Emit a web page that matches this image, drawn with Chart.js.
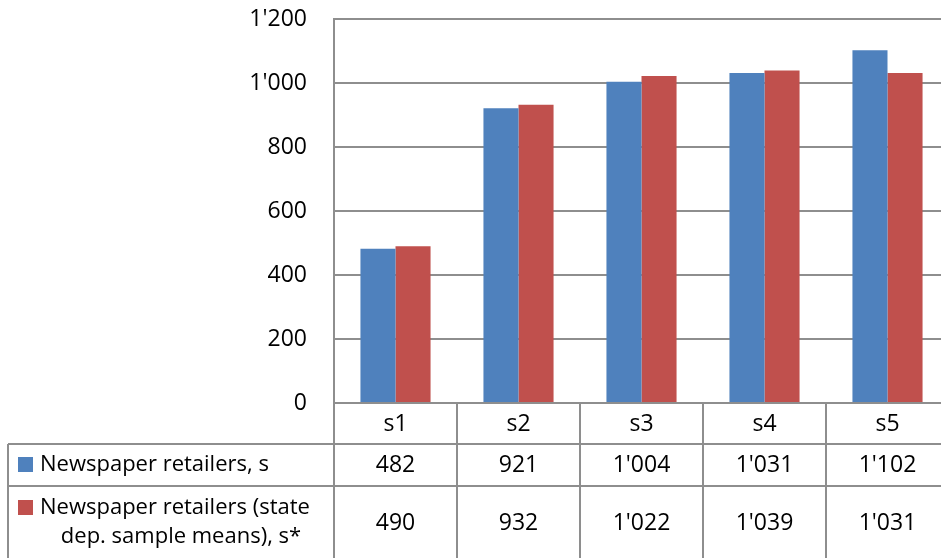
<!DOCTYPE html>
<html>
<head>
<meta charset="utf-8">
<script src="https://cdn.jsdelivr.net/npm/chart.js@4/dist/chart.umd.min.js"></script>
<style>
  html, body { margin: 0; padding: 0; background: #fff; overflow: hidden; }
  #wrap { width: 950px; height: 558px; position: relative; }
</style>
</head>
<body>
<div id="wrap"><canvas id="chart"></canvas></div>
<script>
const categories = ['s1', 's2', 's3', 's4', 's5'];
const retailers = [482, 921, 1004, 1031, 1102];
const retailersStateMeans = [490, 932, 1022, 1039, 1031];
const seriesNames = [
  ['Newspaper retailers, s'],
  ['Newspaper retailers (state', 'dep. sample means), s*']
];
const yTicks = [0, 200, 400, 600, 800, 1000, 1200];

const BLUE = '#4F81BD';
const RED = '#C0504D';
const GRID = '#8E8E8E';
const FONT = '"Open Sans", "Noto Sans", sans-serif';
const FONT_SIZE = 23;

// swiss style thousands separator
function fmt(n) {
  return String(n).replace(/\B(?=(\d{3})+(?!\d))/g, "'");
}

const dataTable = {
  id: 'dataTable',
  afterDraw(chart) {
    const ctx = chart.ctx;
    const area = chart.chartArea;
    const x = chart.scales.x;
    const n = categories.length;
    const step = (area.right - area.left) / n;
    const top = area.bottom;
    const row1 = top + 41;
    const row2 = row1 + 42;
    const bottom = 560;
    const tableLeft = 8;

    ctx.save();
    ctx.strokeStyle = GRID;
    ctx.lineWidth = 2;
    ctx.beginPath();
    // vertical separators
    for (let i = 0; i <= n; i++) {
      const px = area.left + i * step;
      ctx.moveTo(px, top);
      ctx.lineTo(px, bottom);
    }
    ctx.moveTo(tableLeft, row1);
    ctx.lineTo(tableLeft, bottom);
    ctx.moveTo(tableLeft, row1);
    ctx.lineTo(area.right, row1);
    ctx.moveTo(tableLeft, row2);
    ctx.lineTo(area.right, row2);
    ctx.stroke();

    ctx.fillStyle = '#000';
    ctx.font = FONT_SIZE + 'px ' + FONT;
    ctx.textAlign = 'center';
    ctx.textBaseline = 'middle';
    const y1 = 465;
    const y2 = 523;
    categories.forEach((c, i) => {
      const cx = x.getPixelForValue(i);
      ctx.fillText(c, cx, 424);
      ctx.fillText(fmt(retailers[i]), cx, y1);
      ctx.fillText(fmt(retailersStateMeans[i]), cx, y2);
    });

    // legend keys + series labels
    const colors = [BLUE, RED];
    ctx.font = '22px ' + FONT;
    ctx.textAlign = 'left';
    ctx.fillStyle = colors[0];
    ctx.fillRect(18, y1 - 8, 15, 15);
    ctx.fillStyle = '#000';
    ctx.fillText(seriesNames[0][0], 40, y1);

    ctx.fillStyle = colors[1];
    ctx.fillRect(18, y2 - 23, 15, 15);
    ctx.fillStyle = '#000';
    ctx.fillText(seriesNames[1][0], 40, y2 - 15);
    ctx.textAlign = 'center';
    ctx.fillText(seriesNames[1][1], 181, y2 + 14);
    ctx.restore();
  }
};

new Chart(document.getElementById('chart'), {
  type: 'bar',
  data: {
    labels: categories,
    datasets: [
      { label: seriesNames[0].join(' '), data: retailers, backgroundColor: BLUE },
      { label: seriesNames[1].join(' '), data: retailersStateMeans, backgroundColor: RED }
    ]
  },
  options: {
    responsive: true,
    maintainAspectRatio: false,
    animation: false,
    layout: { padding: { top: 0, right: 1, bottom: 155, left: 0 } },
    datasets: {
      bar: { categoryPercentage: 0.57, barPercentage: 1.0 }
    },
    plugins: {
      legend: { display: false },
      tooltip: { enabled: false }
    },
    scales: {
      x: { display: false },
      y: {
        min: 0,
        max: 1200,
        afterFit: (scale) => {
          scale.width = 334;
          scale.paddingTop = 19;
          scale.paddingBottom = 0;
        },
        afterBuildTicks: (scale) => { scale.ticks = yTicks.map(v => ({ value: v })); },
        border: { display: true, color: GRID, width: 2 },
        grid: { color: GRID, lineWidth: 2, drawTicks: false },
        ticks: {
          padding: 27,
          color: '#000',
          font: { family: FONT, size: FONT_SIZE },
          callback: (v) => fmt(v)
        }
      }
    }
  },
  plugins: [dataTable]
});
</script>
</body>
</html>
